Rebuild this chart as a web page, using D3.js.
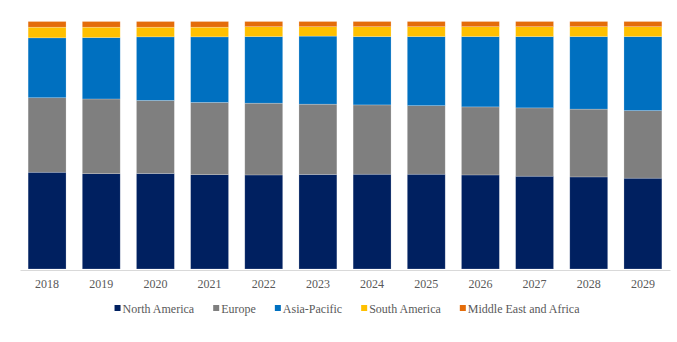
<!DOCTYPE html>
<html>
<head>
<meta charset="utf-8">
<script src="https://cdn.jsdelivr.net/npm/d3@7/dist/d3.min.js"></script>
<style>
  html, body { margin: 0; padding: 0; background: #fff; }
  svg { display: block; }
</style>
</head>
<body>
<svg id="chart" width="677" height="342"></svg>
<script>
// Market share by region (%), 2018–2029
const years = ["2018","2019","2020","2021","2022","2023","2024","2025","2026","2027","2028","2029"];
const regions = ["North America","Europe","Asia-Pacific","South America","Middle East and Africa"];
const northAmerica = [39.1, 38.5, 38.6, 38.1, 38.0, 38.2, 38.3, 38.3, 38.0, 37.5, 37.2, 36.7];
const europe       = [30.1, 30.2, 29.5, 29.2, 29.0, 28.4, 28.0, 27.7, 27.5, 27.6, 27.4, 27.3];
const asiaPacific  = [24.2, 24.8, 25.7, 26.5, 26.9, 27.5, 27.6, 27.9, 28.4, 28.8, 29.3, 29.9];
const southAmerica = [4.3, 4.2, 3.9, 3.9, 4.0, 3.8, 4.0, 4.0, 4.0, 4.0, 4.0, 4.0];
const middleEast   = [2.3, 2.3, 2.3, 2.3, 2.1, 2.1, 2.1, 2.1, 2.1, 2.1, 2.1, 2.1];
const colors = ["#002060", "#7f7f7f", "#0070c0", "#ffc000", "#e46c0a"];

const FONT = "Liberation Serif, Times New Roman, Times, DejaVu Serif, serif";

const series = [northAmerica, europe, asiaPacific, southAmerica, middleEast];
const rows = years.map((y, i) => {
  const r = { year: y };
  regions.forEach((k, j) => { r[k] = series[j][i]; });
  return r;
});

const svg = d3.select("#chart");
const margin = { top: 21.5, left: 20, right: 7, bottom: 73 };
const W = 677, H = 342;

const x = d3.scaleBand()
  .domain(years)
  .range([margin.left, W - margin.right])
  .paddingInner(0.3)
  .paddingOuter(0.15);

const y = d3.scaleLinear()
  .domain([0, 100])
  .range([H - margin.bottom, margin.top]);

const stack = d3.stack().keys(regions).offset(d3.stackOffsetExpand);
const stacked = stack(rows);

svg.append("g")
  .selectAll("g")
  .data(stacked)
  .join("g")
  .attr("fill", (d, i) => colors[i])
  .selectAll("rect")
  .data(d => d)
  .join("rect")
  .attr("x", d => x(d.data.year))
  .attr("width", x.bandwidth())
  .attr("y", d => y(d[1] * 100))
  .attr("height", d => y(d[0] * 100) - y(d[1] * 100))
  .attr("stroke", "rgba(255,255,255,0.35)")
  .attr("stroke-width", 0.6);

// category axis
const axis = svg.append("g")
  .attr("transform", `translate(0,${H - margin.bottom + 1})`)
  .call(d3.axisBottom(x).tickSize(0).tickPadding(9))
  .attr("font-family", FONT)
  .attr("font-size", 12);
axis.select(".domain").attr("stroke", "#d9d9d9").attr("stroke-width", 1);
axis.selectAll("text").attr("fill", "#595959");

// legend
const legend = svg.append("g")
  .attr("font-family", FONT)
  .attr("font-size", 12);
const items = legend.selectAll("g")
  .data(regions)
  .join("g");
items.append("rect")
  .attr("width", 6).attr("height", 6)
  .attr("y", 305)
  .attr("fill", (d, i) => colors[i]);
items.append("text")
  .attr("x", 8)
  .attr("y", 312.5)
  .attr("fill", "#595959")
  .text(d => d);

let cursor = 0;
const gap = 19;
items.each(function () {
  const g = d3.select(this);
  g.attr("transform", `translate(${cursor},0)`);
  cursor += 8 + g.select("text").node().getComputedTextLength() + gap;
});
const total = cursor - gap;
legend.attr("transform", `translate(${347 - total / 2},0)`);
</script>
</body>
</html>
